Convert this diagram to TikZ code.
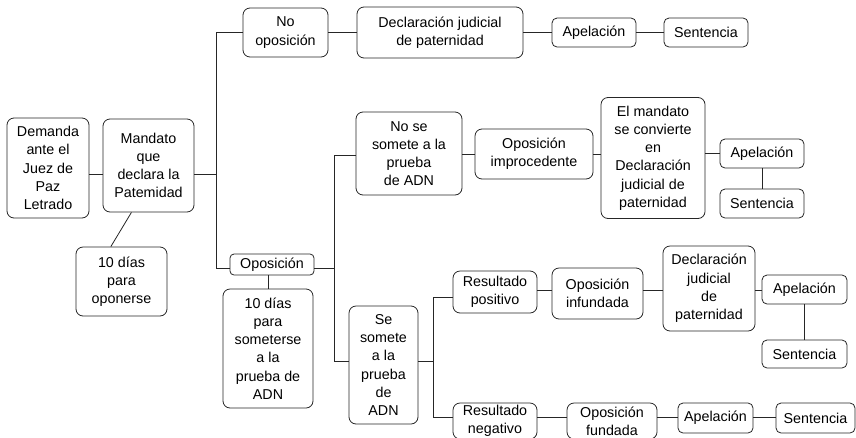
\documentclass[tikz,border=0pt]{standalone}
\usepackage{fontspec}
\setmainfont{Liberation Sans}
\begin{document}
\begin{tikzpicture}[x=1pt,y=-1pt,
  box/.style={draw=black!85, line width=0.8pt, rounded corners=7pt, align=center, inner sep=0pt,
    font=\fontsize{14.3}{18.2}\selectfont},
  sbox/.style={box, rounded corners=5pt},
  ln/.style={draw=black!85, line width=0.8pt}]
\useasboundingbox (0,0) rectangle (856,437);
\clip (0,0) rectangle (856,437);
% nodes
\node[box, minimum width=82, minimum height=100] (dem) at (48,168) {Demanda\\ante el\\Juez de\\Paz\\Letrado};
\node[box, minimum width=91, minimum height=93] (man) at (148.5,165.5) {Mandato\\que\\declara la\\Patemidad};
\node[box, minimum width=91, minimum height=69] (dias1) at (121.5,281.5) {10 días\\para\\oponerse};
\node[box, minimum width=85, minimum height=49] (noop) at (285.5,32.5) {No\\oposición};
\node[box, minimum width=166, minimum height=51] (decl1) at (440,32.5) {Declaración judicial\\de paternidad};
\node[sbox, minimum width=84, minimum height=29] (apel1) at (594,32.5) {Apelación};
\node[sbox, minimum width=84, minimum height=29] (sent1) at (706,32.5) {Sentencia};
\node[sbox, rounded corners=4pt, minimum width=84, minimum height=21] (opo) at (272,264.5) {Oposición};
\node[box, minimum width=90, minimum height=119] (dias2) at (268,348.5) {10 días\\para\\someterse\\a la\\prueba de\\ADN};
\node[box, minimum width=106, minimum height=83] (nosom) at (409,153.5) {No se\\somete a la\\prueba\\de ADN};
\node[box, minimum width=118, minimum height=50] (opimp) at (534,154) {Oposición\\improcedente};
\node[box, minimum width=104, minimum height=121] (mand2) at (653,158) {El mandato\\se convierte\\en\\Declaración\\judicial de\\paternidad};
\node[sbox, minimum width=84, minimum height=29] (apel2) at (762,153.5) {Apelación};
\node[sbox, minimum width=84, minimum height=29] (sent2) at (762,203.5) {Sentencia};
\node[box, minimum width=69, minimum height=118] (sesom) at (383.5,365) {Se\\somete\\a la\\prueba\\de\\ADN};
\node[box, minimum width=84, minimum height=42] (rpos) at (495,292) {Resultado\\positivo};
\node[box, minimum width=91, minimum height=51] (oinf) at (597.5,293.5) {Oposición\\infundada};
\node[box, minimum width=92, minimum height=85] (decl2) at (709,288.5) {Declaración\\judicial\\de\\paternidad};
\node[sbox, minimum width=85, minimum height=29] (apel3) at (804.5,289.5) {Apelación};
\node[sbox, minimum width=85, minimum height=28] (sent3) at (804.5,354) {Sentencia};
\node[box, minimum width=84, minimum height=36] (rneg) at (495,421) {Resultado\\negativo};
\node[box, minimum width=90, minimum height=36] (ofun) at (612,421) {Oposición\\fundada};
\node[sbox, minimum width=75, minimum height=30] (apel4) at (715.5,418) {Apelación};
\node[sbox, minimum width=79, minimum height=30] (sent4) at (815.5,418) {Sentencia};
% junction coordinates
\coordinate (j1) at (216,174);
\coordinate (t1) at (216,32);
\coordinate (b1) at (216,268);
\coordinate (j2) at (334,268);
\coordinate (t2) at (334,155);
\coordinate (b2) at (334,361);
\coordinate (t3) at (433,297);
\coordinate (b3) at (433,417);
\coordinate (r2) at (0,154);
\coordinate (r3) at (0,290);
% connectors
\draw[ln] (dem.east |- j1) -- (man.west |- j1);
\draw[ln] (man.east |- j1) -- (j1);
\draw[ln] (noop.west |- t1) -- (t1) -- (b1) -- (opo.west |- b1);
\draw[ln] (man.250) -- (dias1.107);
\draw[ln] (noop.east) -- (noop.east -| decl1.west);
\draw[ln] (decl1.east) -- (decl1.east -| apel1.west);
\draw[ln] (apel1.east) -- (apel1.east -| sent1.west);
\draw[ln] (opo.east |- j2) -- (j2);
\draw[ln] (dias2.north |- opo.south) -- (dias2.north);
\draw[ln] (nosom.west |- t2) -- (t2) -- (b2) -- (sesom.west |- b2);
\draw[ln] (nosom.east |- r2) -- (opimp.west |- r2);
\draw[ln] (opimp.east |- r2) -- (mand2.west |- r2);
\draw[ln] (mand2.east |- apel2.west) -- (apel2.west);
\draw[ln] (apel2.south) -- (sent2.north);
\draw[ln] (sesom.east |- b2) -- (t3 |- b2);
\draw[ln] (rpos.west |- t3) -- (t3) -- (b3) -- (rneg.west |- b3);
\draw[ln] (rpos.east |- r3) -- (oinf.west |- r3);
\draw[ln] (oinf.east |- r3) -- (decl2.west |- r3);
\draw[ln] (decl2.east |- r3) -- (apel3.west |- r3);
\draw[ln] (apel3.south) -- (sent3.north);
\draw[ln] (rneg.east |- b3) -- (ofun.west |- b3);
\draw[ln] (ofun.east |- b3) -- (apel4.west |- b3);
\draw[ln] (apel4.east |- b3) -- (sent4.west |- b3);
\end{tikzpicture}
\end{document}
